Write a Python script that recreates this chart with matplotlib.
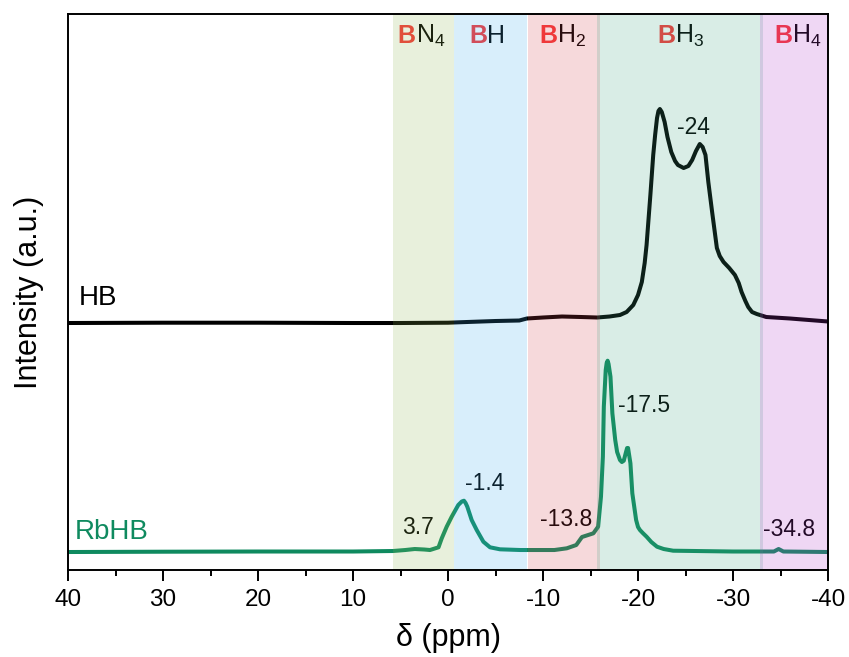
import numpy as np
import matplotlib
matplotlib.use("Agg")
import matplotlib.pyplot as plt

plt.rcParams['font.family'] = ['Liberation Sans', 'DejaVu Sans']
plt.rcParams['mathtext.fontset'] = 'custom'
plt.rcParams['mathtext.rm'] = 'Liberation Sans'
plt.rcParams['mathtext.it'] = 'Liberation Sans:italic'
plt.rcParams['mathtext.bf'] = 'Liberation Sans:bold'

# spectra (ppm, intensity a.u.)
hb_ppm = [40, 30, 20, 10, 5, 0, -2, -5, -7.5, -8.3, -10, -12, -14, -15.7, -17.0,
          -18.1, -18.8, -19.5, -20.0, -20.4, -20.7, -20.9, -21.3, -21.6, -21.8, -22.0,
          -22.15, -22.3, -22.5, -22.8, -23.1, -23.5, -23.9, -24.2, -24.8, -25.3, -25.7,
          -26.1, -26.5, -26.8, -27.1, -27.4, -27.8, -28.3, -28.6, -29.0, -29.6, -30.2,
          -30.6, -30.9, -31.3, -31.6, -32.0, -32.5, -33.5, -36, -40]
hb_int = [0, 0.003, 0.003, 0.0, 0.0, 0.003, 0.01, 0.02, 0.025, 0.045, 0.055, 0.065,
          0.06, 0.055, 0.065, 0.08, 0.11, 0.18, 0.28, 0.41, 0.6, 0.78, 1.28, 1.68,
          1.88, 2.05, 2.12, 2.14, 2.11, 2.01, 1.86, 1.71, 1.62, 1.58, 1.55, 1.57, 1.63,
          1.72, 1.79, 1.76, 1.68, 1.41, 1.11, 0.75, 0.67, 0.61, 0.55, 0.48, 0.40, 0.31,
          0.22, 0.16, 0.11, 0.09, 0.06, 0.045, 0.015]

rb_ppm = [40, 30, 20, 10, 5.8, 4.5, 3.5, 2.5, 1.9, 1.0, 0.66, 0.14, -0.39, -1.08,
          -1.45, -1.68, -1.85, -2.03, -2.49, -3.02, -3.72, -4.42, -5.47, -7.6, -11.2,
          -12.5, -13.5, -14.1, -15.3, -15.8, -16.1, -16.3, -16.4, -16.6, -16.7, -16.8,
          -16.9, -17.1, -17.3, -17.6, -17.8, -18.1, -18.3, -18.5, -18.7, -18.85, -18.95,
          -19.2, -19.4, -19.8, -20.0, -20.2, -20.5, -20.9, -21.4, -22.0, -22.7, -23.7,
          -30, -34.3, -34.8, -35.3, -40]
rb_int = [0, 0.003, 0.005, 0.005, 0.01, 0.02, 0.03, 0.025, 0.02, 0.047, 0.137, 0.253,
          0.353, 0.47, 0.505, 0.513, 0.49, 0.453, 0.32, 0.22, 0.103, 0.047, 0.027, 0.02,
          0.02, 0.037, 0.07, 0.15, 0.187, 0.253, 0.553, 0.953, 1.453, 1.82, 1.89, 1.913,
          1.88, 1.753, 1.387, 1.12, 1.0, 0.92, 0.9, 0.913, 0.987, 1.04, 1.04, 0.887,
          0.587, 0.32, 0.25, 0.22, 0.19, 0.153, 0.1, 0.053, 0.03, 0.013, 0.005, 0.005,
          0.03, 0.005, 0.0]
hb_offset = 2.29

# shaded regions
regions = [("N$_4$", 5.8, -0.6, '#8cb450', 3.4),
           ("H", -0.6, -8.3, '#3caaeb', -4.1),
           ("H$_2$", -8.4, -16.0, '#d2414b', -11.5),
           ("H$_3$", -15.7, -33.2, '#41a582', -23.9),
           ("H$_4$", -32.85, -40, '#af37c8', -36.2)]

# peak labels (text, ppm, y)
peak_labels = [("-24", -25.8, 4.24), ("-17.5", -20.6, 1.47), ("3.7", 3.2, 0.25),
               ("-1.4", -3.9, 0.69), ("-13.8", -12.4, 0.33), ("-34.8", -35.9, 0.23)]

green = '#0f8a5f'

fig = plt.figure(figsize=(8.49, 6.57), dpi=100)
ax = fig.add_axes([0.0801, 0.1324, 0.8952, 0.8463])

ax.plot(hb_ppm, np.array(hb_int) + hb_offset, color='black', lw=2.9, zorder=2,
        solid_joinstyle='round')
ax.plot(rb_ppm, rb_int, color=green, lw=2.9, zorder=2, solid_joinstyle='round')

for name, x0, x1, c, xs in regions:
    ax.axvspan(x0, x1, color=c, alpha=0.2, lw=0, zorder=3)
    ax.text(xs, 0.948, "B", transform=ax.get_xaxis_transform(), ha='right',
            va='baseline', fontsize=18, fontweight='bold', color='#f73636', zorder=2)
    ax.text(xs, 0.948, name, transform=ax.get_xaxis_transform(), ha='left',
            va='baseline', fontsize=18, color='black', zorder=2)

for t, x, y in peak_labels:
    ax.text(x, y, t, ha='center', va='center', fontsize=16.5, zorder=2)

ax.text(38.9, 2.54, "HB", ha='left', va='center', fontsize=20, zorder=2)
ax.text(39.3, 0.2, "RbHB", ha='left', va='center', fontsize=20, color=green, zorder=2)

ax.set_xlim(40, -40)
ax.set_ylim(-0.18, 5.38)
ax.set_xticks(np.arange(40, -41, -10))
ax.set_xticklabels([str(v) for v in range(40, -41, -10)])
ax.set_xticks(np.arange(35, -40, -10), minor=True)
ax.set_yticks([])
ax.tick_params(axis='x', which='major', direction='out', length=8, width=1.4,
               labelsize=17.5, pad=6)
ax.tick_params(axis='x', which='minor', direction='out', length=4, width=1.4)
for s in ax.spines.values():
    s.set_linewidth(1.4)
    s.set_zorder(4)

ax.set_xlabel("δ (ppm)", fontsize=22, labelpad=8)
ax.set_ylabel("Intensity (a.u.)", fontsize=22, labelpad=17)

fig.savefig("out.png", dpi=100)
